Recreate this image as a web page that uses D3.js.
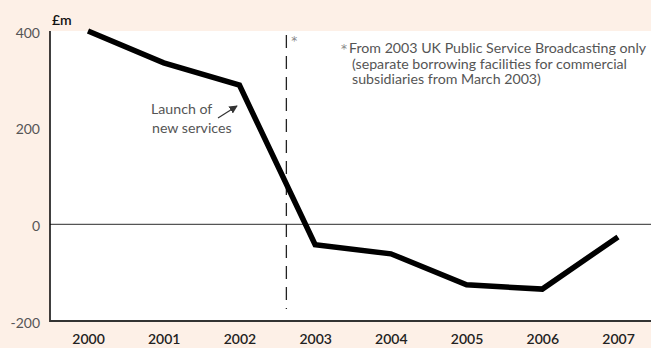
<!DOCTYPE html>
<html>
<head>
<meta charset="utf-8">
<script src="https://cdn.jsdelivr.net/npm/d3@7"></script>
<style>
  body { margin: 0; background: #fdf0e7; }
  svg { display: block; font-family: Lato, "Open Sans", sans-serif; }
</style>
</head>
<body>
<svg id="chart" width="651" height="348"></svg>
<script>
// data
const years = [2000, 2001, 2002, 2003, 2004, 2005, 2006, 2007];
const borrowing = [400, 334, 288, -42, -61, -125, -134, -26];
const yTicks = [-200, 0, 200, 400];
const breakYear = 2002.62;
const noteLines = [
  "From 2003 UK Public Service Broadcasting only",
  "(separate borrowing facilities for commercial",
  "subsidiaries from March 2003)"
];

const width = 651, height = 348;
const plotLeft = 50, plotTop = 31, plotBottom = 321;

const svg = d3.select("#chart");

const x = d3.scaleLinear().domain([2000, 2007]).range([88, 618]);
const y = d3.scaleLinear().domain([-200, 400]).range([plotBottom, plotTop]);

// background + plot area
svg.append("rect").attr("width", width).attr("height", height).attr("fill", "#fdf0e7");
svg.append("rect")
  .attr("x", plotLeft).attr("y", plotTop)
  .attr("width", width - plotLeft).attr("height", plotBottom - plotTop)
  .attr("fill", "#ffffff");

// zero line
svg.append("line")
  .attr("x1", plotLeft).attr("x2", width)
  .attr("y1", y(0)).attr("y2", y(0))
  .attr("stroke", "#555").attr("stroke-width", 1.3);

// y axis labels
const yAxis = svg.append("g")
  .attr("transform", "translate(" + plotLeft + ",0)")
  .call(d3.axisLeft(y).tickValues(yTicks).tickFormat(d => String(d)).tickSize(0).tickPadding(10));
yAxis.select(".domain").remove();
yAxis.selectAll("text")
  .attr("font-family", "Lato, sans-serif")
  .attr("font-size", 14).attr("fill", "#555").attr("dy", "0.45em");

// x axis labels
const xAxis = svg.append("g")
  .attr("transform", "translate(0," + plotBottom + ")")
  .call(d3.axisBottom(x).tickValues(years).tickFormat(d3.format("d")).tickSize(0).tickPadding(13));
xAxis.select(".domain").remove();
xAxis.selectAll("text")
  .attr("font-family", "Lato, sans-serif")
  .attr("font-size", 14).attr("font-weight", 600).attr("fill", "#222");

// axis lines
svg.append("line")
  .attr("x1", plotLeft).attr("x2", plotLeft)
  .attr("y1", plotTop).attr("y2", plotBottom + 1)
  .attr("stroke", "#000").attr("stroke-width", 1.5);
svg.append("line")
  .attr("x1", plotLeft).attr("x2", width)
  .attr("y1", plotBottom).attr("y2", plotBottom)
  .attr("stroke", "#333").attr("stroke-width", 2);

// dashed break line
svg.append("line")
  .attr("x1", x(breakYear)).attr("x2", x(breakYear))
  .attr("y1", y(400) + 4).attr("y2", plotBottom - 12)
  .attr("stroke", "#222").attr("stroke-width", 1.3)
  .attr("stroke-dasharray", "13,8");
svg.append("text")
  .attr("x", x(breakYear) + 5).attr("y", plotTop + 14)
  .attr("font-family", "DejaVu Sans").attr("font-size", 12)
  .attr("fill", "#888").text("*");

// main line
const line = d3.line()
  .x((d, i) => x(years[i]))
  .y(d => y(d));
svg.append("path")
  .datum(borrowing)
  .attr("d", line)
  .attr("fill", "none")
  .attr("stroke", "#000")
  .attr("stroke-width", 5.5)
  .attr("stroke-linejoin", "miter");

// footnote
svg.append("text")
  .attr("x", 341).attr("y", 53)
  .attr("font-family", "DejaVu Sans").attr("font-size", 12)
  .attr("fill", "#888").text("*");
svg.selectAll(".note")
  .data(noteLines)
  .enter().append("text")
  .attr("class", "note")
  .attr("x", (d, i) => i === 0 ? 349 : 352)
  .attr("y", (d, i) => 53 + i * 15.5)
  .attr("font-size", 14.2).attr("fill", "#555")
  .text(d => d);

// launch annotation
svg.append("defs").append("marker")
  .attr("id", "arrow").attr("viewBox", "0 0 10 10")
  .attr("refX", 9).attr("refY", 5)
  .attr("markerWidth", 7).attr("markerHeight", 7)
  .attr("orient", "auto")
  .append("path").attr("d", "M0,0 L10,5 L0,10 z").attr("fill", "#333");
svg.append("line")
  .attr("x1", 218).attr("y1", 118)
  .attr("x2", 237).attr("y2", 106)
  .attr("stroke", "#333").attr("stroke-width", 1.2)
  .attr("marker-end", "url(#arrow)");
svg.append("text")
  .attr("x", 151).attr("y", 114)
  .attr("font-size", 14.2).attr("fill", "#555").text("Launch of");
svg.append("text")
  .attr("x", 152).attr("y", 133)
  .attr("font-size", 14.2).attr("fill", "#555").text("new services");

// unit label
svg.append("text")
  .attr("x", 52).attr("y", 25)
  .attr("font-size", 14).attr("font-weight", 600).attr("fill", "#111").text("£m");
</script>
</body>
</html>
